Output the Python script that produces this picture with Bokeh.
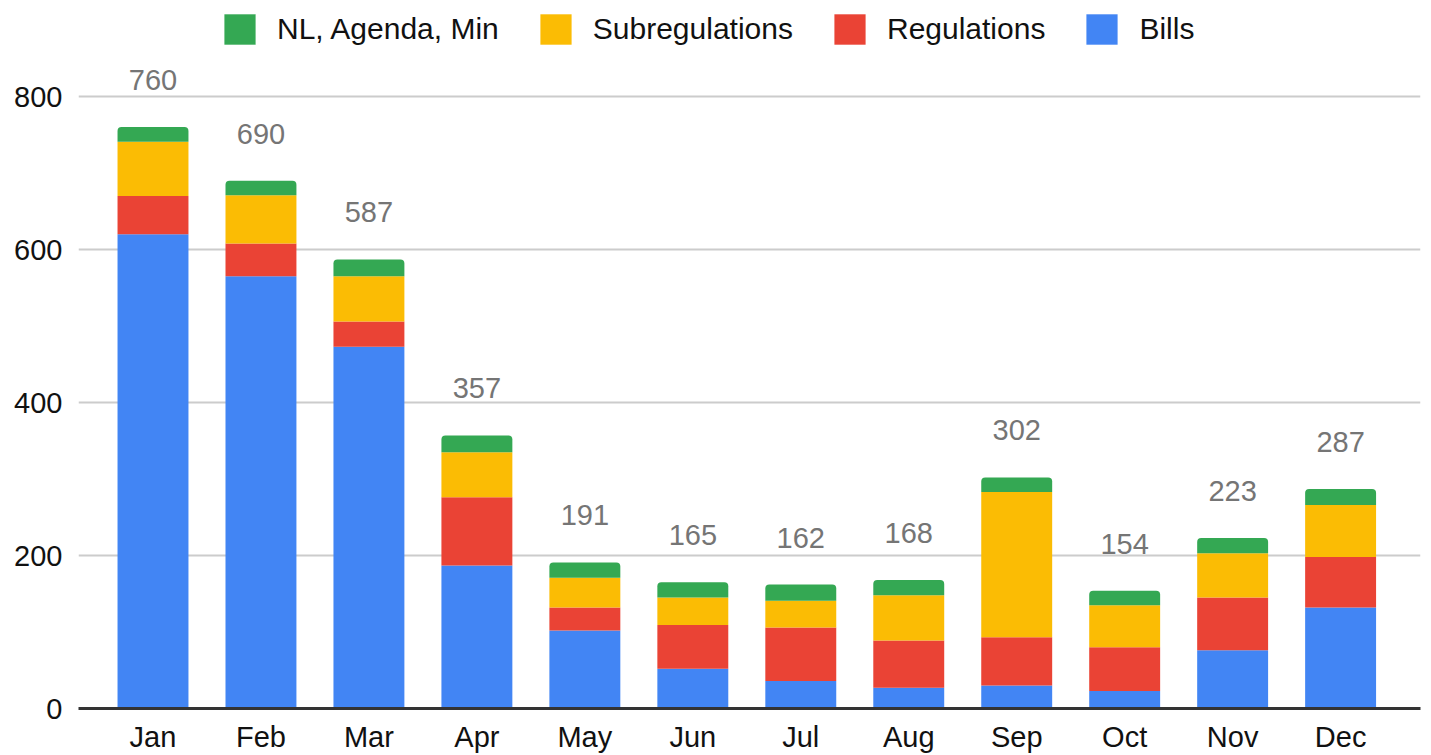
from bokeh.plotting import figure
from bokeh.models import ColumnDataSource, Range1d, FixedTicker, Legend, LegendItem
from bokeh.core.properties import value
from bokeh.embed import file_html
from bokeh.resources import INLINE

months = ["Jan", "Feb", "Mar", "Apr", "May", "Jun", "Jul", "Aug", "Sep", "Oct", "Nov", "Dec"]
bills = [620, 565, 473, 187, 102, 52, 36, 27, 30, 23, 76, 132]
regulations = [50, 43, 33, 89, 30, 57, 70, 62, 63, 57, 69, 66]
subregulations = [71, 63, 59, 59, 39, 36, 35, 59, 190, 55, 58, 68]
nl_agenda_min = [19, 19, 22, 22, 20, 20, 21, 20, 19, 19, 20, 21]
totals = [760, 690, 587, 357, 191, 165, 162, 168, 302, 154, 223, 287]
y_ticks = [0, 200, 400, 600, 800]

series = ["bills", "regulations", "subregulations", "nl"]
names = ["Bills", "Regulations", "Subregulations", "NL, Agenda, Min"]
colors = ["#4285F4", "#EA4335", "#FBBC04", "#34A853"]

FONT = "Liberation Sans"

xs = list(range(len(months)))
src = ColumnDataSource(dict(x=xs, bills=bills, regulations=regulations,
                            subregulations=subregulations, nl=nl_agenda_min,
                            total=totals, lab=[str(t) for t in totals]))

p = figure(width=1431, height=755, output_backend="svg", toolbar_location=None,
           x_range=Range1d(-0.69, 11.74), y_range=Range1d(0, 925.5),
           min_border_left=78, min_border_right=11, min_border_top=0, min_border_bottom=47)
p.outline_line_color = None
p.background_fill_color = "white"

rs = p.vbar_stack(series, x="x", width=0.657, source=src, color=colors, line_color=None)
try:
    rs[-1].glyph.border_radius = (4, 4, 0, 0)
except Exception:
    pass

p.text(x="x", y="total", text="lab", source=src, y_offset=-47,
       text_align="center", text_baseline="middle", text_color="#757575",
       text_font=value(FONT), text_font_size="29px")

# axes
p.xaxis.ticker = FixedTicker(ticks=xs)
p.xaxis.major_label_overrides = {i: m for i, m in enumerate(months)}
p.xaxis.major_tick_line_color = None
p.xaxis.major_tick_out = 0
p.xaxis.major_tick_in = 0
p.xaxis.minor_tick_line_color = None
p.xaxis.axis_line_color = "#333333"
p.xaxis.axis_line_width = 3
p.xaxis.major_label_standoff = 12
p.xaxis.major_label_text_font = FONT
p.xaxis.major_label_text_font_size = "29px"
p.xaxis.major_label_text_color = "#111111"

p.yaxis.ticker = FixedTicker(ticks=y_ticks)
p.yaxis.axis_line_color = None
p.yaxis.major_tick_line_color = None
p.yaxis.major_tick_out = 0
p.yaxis.major_tick_in = 0
p.yaxis.minor_tick_line_color = None
p.yaxis.major_label_standoff = 16
p.yaxis.major_label_text_font = FONT
p.yaxis.major_label_text_font_size = "29px"
p.yaxis.major_label_text_color = "#111111"

p.xgrid.grid_line_color = None
p.ygrid.ticker = FixedTicker(ticks=y_ticks)
p.ygrid.grid_line_color = "#cccccc"
p.ygrid.grid_line_width = 2

items = [LegendItem(label=names[i], renderers=[rs[i]]) for i in [3, 2, 1, 0]]
legend = Legend(items=items, orientation="horizontal", location=(142, 660),
                glyph_width=39, glyph_height=38, label_standoff=18, spacing=37,
                padding=0, margin=0, border_line_color=None, background_fill_alpha=0,
                label_text_font=FONT, label_text_font_size="30px", label_text_color="#111111")
p.add_layout(legend, "center")

open("out.html", "w").write(file_html(p, INLINE))
